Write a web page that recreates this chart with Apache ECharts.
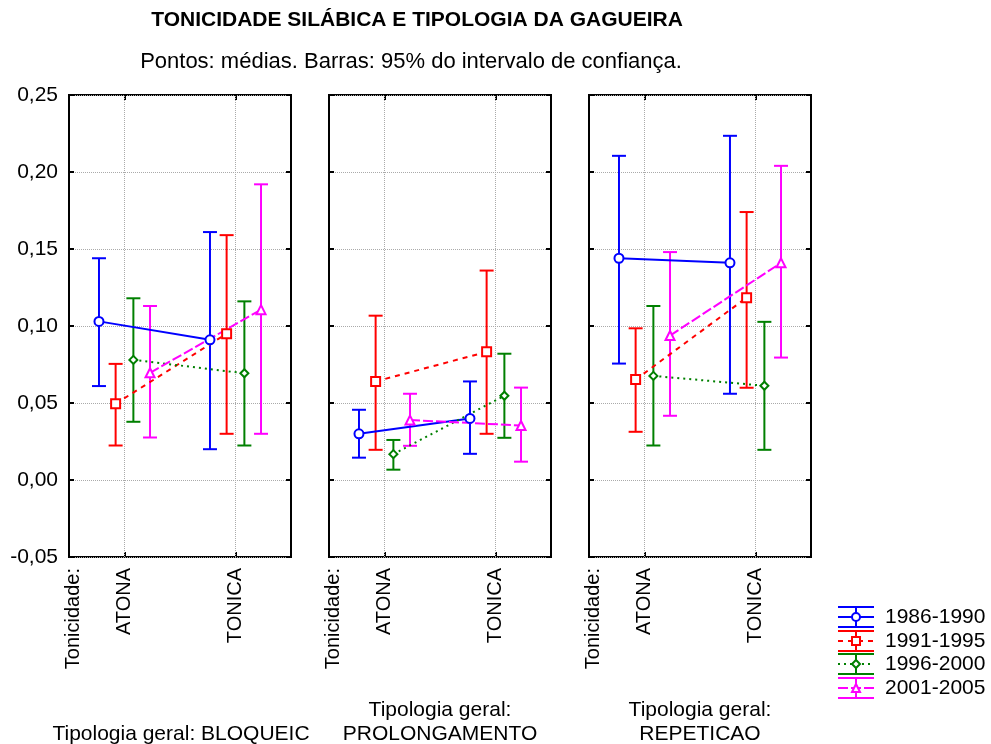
<!DOCTYPE html>
<html><head><meta charset="utf-8">
<script src="https://cdn.jsdelivr.net/npm/echarts@6/dist/echarts.min.js"></script>
<style>html,body{margin:0;padding:0;background:#fff}#c{width:991px;height:744px}</style>
</head><body><div id="c"></div><script>
// ---- data ----
const categories = ['ATONA', 'TONICA'];
const panelNames = ['BLOQUEIC', 'PROLONGAMENTO', 'REPETICAO'];
const seriesNames = ['1986-1990', '1991-1995', '1996-2000', '2001-2005'];
const yMin = -0.05, yMax = 0.25, yStep = 0.05;
// [panel][category]
const mean1986 = [[0.103, 0.091], [0.030, 0.040], [0.144, 0.141]];
const low1986  = [[0.061, 0.020], [0.0145, 0.017], [0.0756, 0.056]];
const high1986 = [[0.144, 0.161], [0.0456, 0.064], [0.2105, 0.2235]];
const mean1991 = [[0.0495, 0.095], [0.064, 0.0832], [0.0652, 0.1184]];
const low1991  = [[0.0224, 0.030], [0.0196, 0.030], [0.0313, 0.0599]];
const high1991 = [[0.0754, 0.159], [0.1067, 0.136], [0.0985, 0.174]];
const mean1996 = [[0.078, 0.0693], [0.0168, 0.0547], [0.0676, 0.0612]];
const low1996  = [[0.0378, 0.0224], [0.0067, 0.0274], [0.0224, 0.0196]];
const high1996 = [[0.118, 0.116], [0.026, 0.082], [0.113, 0.1027]];
const mean2001 = [[0.0696, 0.1106], [0.0389, 0.0354], [0.0938, 0.141]];
const low2001  = [[0.0276, 0.030], [0.0222, 0.0119], [0.0417, 0.0795]];
const high2001 = [[0.113, 0.192], [0.056, 0.060], [0.148, 0.204]];

const means = [mean1986, mean1991, mean1996, mean2001];
const lows = [low1986, low1991, low1996, low2001];
const highs = [high1986, high1991, high1996, high2001];

// ---- style ----
const FONT = '"Liberation Sans", Arial, sans-serif';
const colors = ['#0000ff', '#ff0000', '#008000', '#ff00ff'];
const symbols = ['emptyCircle', 'emptyRect', 'emptyDiamond', 'emptyTriangle'];
const symbolSizes = [9, 9, 8, 9];
const dashes = ['solid', [5, 5], [2, 4], [10, 3]];
const offsets = [-0.23, -0.08, 0.08, 0.23];
const panelLeft = [69, 329, 589];
const panelW = 222, panelTop = 95, panelH = 462;

const tickStyle = {show: true, inside: true, length: 5, lineStyle: {color: '#000', width: 2}};
const grids = [], xAxes = [], yAxes = [], series = [];
panelNames.forEach((pn, p) => {
  grids.push({left: panelLeft[p], top: panelTop, width: panelW, height: panelH,
    show: true, borderColor: '#000', borderWidth: 2, backgroundColor: 'transparent'});
  xAxes.push({type: 'category', gridIndex: p, data: categories, position: 'bottom', boundaryGap: true,
    axisLine: {show: false, onZero: false},
    axisTick: Object.assign({alignWithLabel: true}, tickStyle),
    axisLabel: {rotate: 90, margin: 11, fontSize: 20, color: '#000', fontFamily: FONT},
    splitLine: {show: false}});
  xAxes.push({type: 'category', gridIndex: p, data: categories, position: 'top', boundaryGap: true,
    axisLine: {show: false, onZero: false},
    axisTick: Object.assign({alignWithLabel: true}, tickStyle),
    axisLabel: {show: false}, splitLine: {show: false}});
  xAxes.push({type: 'value', gridIndex: p, min: -0.5, max: 1.5, show: false,
    axisLine: {onZero: false}});
  yAxes.push({type: 'value', gridIndex: p, min: yMin, max: yMax, interval: yStep, position: 'left',
    axisLine: {show: false, onZero: false},
    axisTick: tickStyle,
    axisLabel: {show: p === 0, margin: 11, fontSize: 21, color: '#000', fontFamily: FONT,
      formatter: v => v.toFixed(2).replace('.', ',')},
    splitLine: {show: true, lineStyle: {color: '#aaa', type: 'dotted', width: 1}}});
  yAxes.push({type: 'value', gridIndex: p, min: yMin, max: yMax, interval: yStep, position: 'right',
    axisLine: {show: false, onZero: false},
    axisTick: tickStyle,
    axisLabel: {show: false}, splitLine: {show: false}});

  seriesNames.forEach((sn, s) => {
    const col = colors[s];
    const errSeries = {
      type: 'custom', name: sn, xAxisIndex: 3 * p + 2, yAxisIndex: 2 * p, z: 3, silent: true,
      data: categories.map((c, k) => [k + offsets[s], lows[s][p][k], highs[s][p][k]]),
      encode: {x: 0, y: [1, 2]},
      renderItem: (params, api) => {
        const x = api.value(0);
        const lo = api.coord([x, api.value(1)]);
        const hi = api.coord([x, api.value(2)]);
        const hw = 7;
        const st = {stroke: col, lineWidth: 2, fill: null};
        return {type: 'group', children: [
          {type: 'line', shape: {x1: lo[0], y1: lo[1], x2: hi[0], y2: hi[1]}, style: st},
          {type: 'line', shape: {x1: lo[0] - hw, y1: lo[1], x2: lo[0] + hw, y2: lo[1]}, style: st},
          {type: 'line', shape: {x1: hi[0] - hw, y1: hi[1], x2: hi[0] + hw, y2: hi[1]}, style: st}
        ]};
      }
    };
    if (s === 0) {
      errSeries.markLine = {silent: true, symbol: 'none', label: {show: false}, z: 1,
        lineStyle: {color: '#aaa', type: 'dotted', width: 1},
        data: categories.map((c, k) => ({xAxis: k}))};
    }
    series.push(errSeries);
    series.push({
      type: 'line', name: sn, xAxisIndex: 3 * p + 2, yAxisIndex: 2 * p, z: 4,
      data: categories.map((c, k) => [k + offsets[s], means[s][p][k]]),
      symbol: symbols[s], symbolSize: symbolSizes[s],
      lineStyle: {color: col, width: 2, type: dashes[s]},
      itemStyle: {color: col, borderColor: col, borderWidth: 2}
    });
  });
});

// ---- texts & legend ----
const graphics = [
  {type: 'text', x: 417, y: 20, style: {text: 'TONICIDADE SILÁBICA E TIPOLOGIA DA GAGUEIRA',
    font: 'bold 21px ' + FONT, fill: '#000', align: 'center', verticalAlign: 'middle'}},
  {type: 'text', x: 411, y: 62, style: {text: 'Pontos: médias. Barras: 95% do intervalo de confiança.',
    font: '22px ' + FONT, fill: '#000', align: 'center', verticalAlign: 'middle'}}
];
panelNames.forEach((pn, p) => {
  graphics.push({type: 'text', x: panelLeft[p] + 4, y: 568, rotation: Math.PI / 2,
    style: {text: 'Tonicidade:', font: '20px ' + FONT, fill: '#000', align: 'right', verticalAlign: 'middle'}});
});
graphics.push({type: 'text', x: 181, y: 734, style: {text: 'Tipologia geral: ' + panelNames[0],
  font: '21px ' + FONT, fill: '#000', align: 'center', verticalAlign: 'middle'}});
[1, 2].forEach(p => {
  const cx = panelLeft[p] + panelW / 2;
  graphics.push({type: 'text', x: cx, y: 710, style: {text: 'Tipologia geral:',
    font: '21px ' + FONT, fill: '#000', align: 'center', verticalAlign: 'middle'}});
  graphics.push({type: 'text', x: cx, y: 734, style: {text: panelNames[p],
    font: '21px ' + FONT, fill: '#000', align: 'center', verticalAlign: 'middle'}});
});
const legY = [617, 641, 664, 688];
seriesNames.forEach((sn, s) => {
  const cy = legY[s], x0 = 838, x1 = 874, xc = 856, col = colors[s];
  const st = {stroke: col, lineWidth: 2, fill: null};
  const ch = [
    {type: 'line', shape: {x1: x0, y1: cy - 10, x2: x1, y2: cy - 10}, style: st},
    {type: 'line', shape: {x1: x0, y1: cy + 10, x2: x1, y2: cy + 10}, style: st},
    {type: 'line', shape: {x1: xc, y1: cy - 10, x2: xc, y2: cy + 10}, style: st},
    {type: 'line', shape: {x1: x0, y1: cy, x2: x1, y2: cy},
      style: {stroke: col, lineWidth: 2, lineDash: dashes[s] === 'solid' ? null : dashes[s]}}
  ];
  const ms = {stroke: col, lineWidth: 2, fill: '#fff'};
  if (s === 0) ch.push({type: 'circle', shape: {cx: xc, cy: cy, r: 4}, style: ms});
  if (s === 1) ch.push({type: 'rect', shape: {x: xc - 4, y: cy - 4, width: 8, height: 8}, style: ms});
  if (s === 2) ch.push({type: 'polygon', shape: {points: [[xc, cy - 4], [xc + 4, cy], [xc, cy + 4], [xc - 4, cy]]}, style: ms});
  if (s === 3) ch.push({type: 'polygon', shape: {points: [[xc, cy - 4], [xc + 4, cy + 4], [xc - 4, cy + 4]]}, style: ms});
  ch.push({type: 'text', x: 885, y: cy, style: {text: sn, font: '21px ' + FONT, fill: '#000', verticalAlign: 'middle'}});
  graphics.push({type: 'group', children: ch});
});

const chart = echarts.init(document.getElementById('c'), null, {renderer: 'canvas'});
chart.setOption({
  animation: false,
  backgroundColor: '#fff',
  grid: grids, xAxis: xAxes, yAxis: yAxes, series: series,
  graphic: graphics
});
</script></body></html>
